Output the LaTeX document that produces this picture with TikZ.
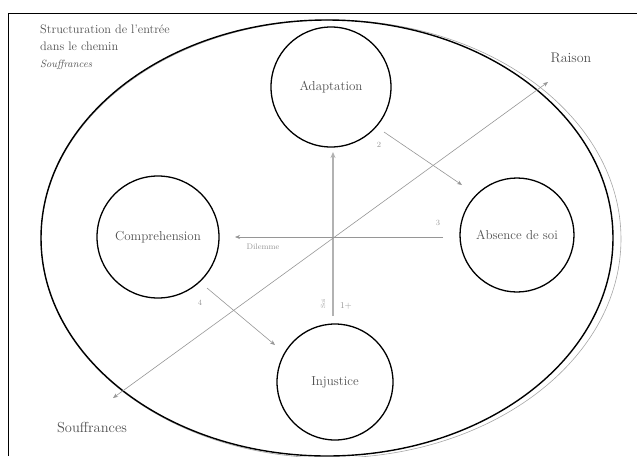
\documentclass[tikz,border=0pt]{standalone}
\usetikzlibrary{arrows.meta}
\definecolor{txtgray}{RGB}{80,80,80}
\definecolor{axgray}{RGB}{150,150,150}
\tikzset{
  pole/.style={circle,draw=black,line width=1.3pt,text=txtgray,font=\fontsize{13}{15}\selectfont},
  link/.style={draw=axgray,line width=0.6pt,-{Stealth[length=5pt,width=4pt]}},
  num/.style={text=axgray,font=\fontsize{8}{9}\selectfont,inner sep=1pt}
}
\begin{document}
\begin{tikzpicture}[x=1pt,y=-1pt]
      \useasboundingbox (0,0) rectangle (637,456);
      \draw[line width=0.8pt] (8,456) |- (637,13);
      % enveloppe
      \draw[black!35,line width=0.6pt] (331,239) ellipse [x radius=290,y radius=219];
      \draw[line width=1.4pt] (327,238) ellipse [x radius=286,y radius=218];
      \draw
        (331,87) node[pole,minimum size=120pt] (adapt){Adaptation}
        (517,235) node[pole,minimum size=114pt] (absence){Absence de soi}
        (158,237) node[pole,minimum size=122pt] (compr){Comprehension}
        (335,382) node[pole,minimum size=116pt] (injust){Injustice};
      \coordinate (raison) at (548,82);
      \coordinate (souff) at (113,398);
      \coordinate (top) at (333,152);
      \coordinate (bot) at (333,316);
      \coordinate (east) at (443,237);
      \coordinate (west) at (235,237);
      \coordinate (d1) at (384,132);
      \coordinate (d2) at (462,185);
      \coordinate (q1) at (207,288);
      \coordinate (q2) at (275,345);
      \begin{scope}[link]
        \draw[line width=2pt,black!30,-{Stealth[length=6pt,width=5pt]}] (bot) to (top);
        \draw (east) to (west);
        \draw[{Stealth[length=5pt,width=4pt]}-{Stealth[length=5pt,width=4pt]}] (souff) to (raison);
        \draw (d1) to (d2);
        \draw (q1) to (q2);
      \end{scope}
      \node[num] (n2) at (379,145) {2};
      \node[num] (n3) at (438,223) {3};
      \node[num] (n4) at (200,303) {4};
      \node[num] (dil) at (263,247) {Dilemme};
      \node[num,font=\fontsize{9}{10}\selectfont] (plus) at (346,306) {1+};
      \node[num,rotate=90,font=\fontsize{6}{7}\selectfont] (soi) at (323,304) {Soi};
      \node[text=txtgray,font=\fontsize{14}{16}\selectfont] (rais) at (571,58) {Raison};
      \node[text=txtgray,font=\fontsize{14.5}{16}\selectfont] (souf) at (92,428) {Souffrances};
      \node[text=txtgray,anchor=north west,align=left,inner sep=0pt,
            font=\fontsize{12.3}{17}\selectfont] (titre) at (40,25)
        {Structuration de l'entrée\\dans le chemin\\{\itshape\fontsize{10.5}{10}\selectfont Souffrances}};
    \end{tikzpicture}
\end{document}
